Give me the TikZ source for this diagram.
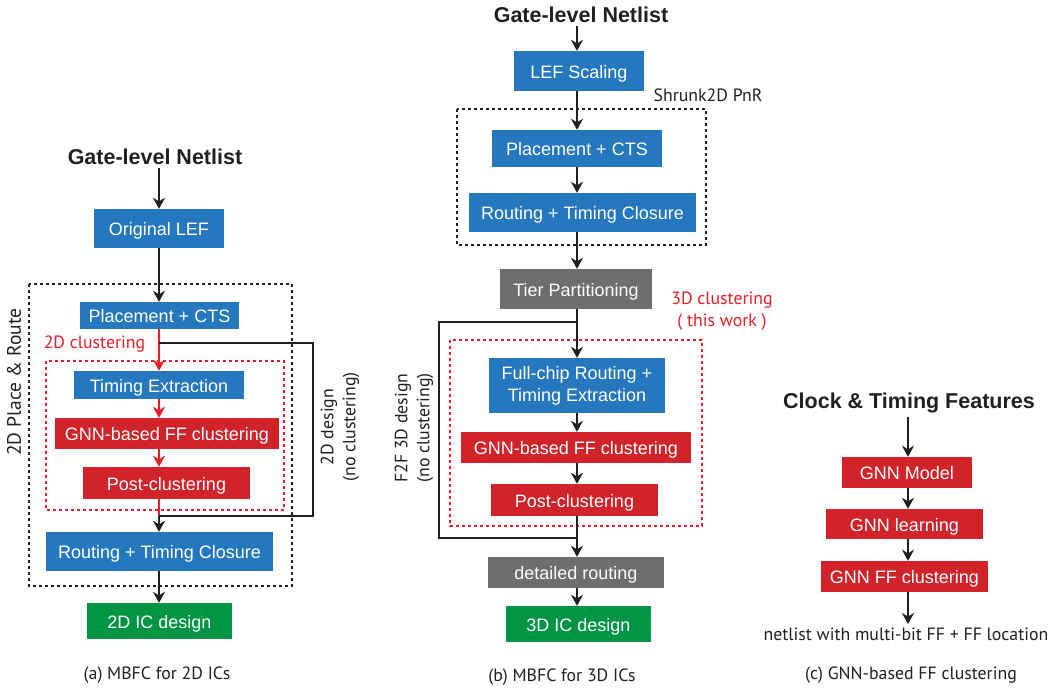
\documentclass[tikz,border=0pt]{standalone}
\usepackage{fontspec}
\setmainfont{Liberation Sans}
\newfontfamily\capfont{PT Sans}
\usetikzlibrary{arrows.meta,calc,positioning}
\definecolor{stepblue}{RGB}{38,120,190}
\definecolor{stepred}{RGB}{208,35,42}
\definecolor{stepgreen}{RGB}{0,148,68}
\definecolor{stepgray}{RGB}{109,110,112}
\definecolor{dotred}{RGB}{237,28,36}
\definecolor{inkblack}{RGB}{35,31,32}

\begin{document}
\begin{tikzpicture}[x=1pt,y=-1pt,>={Stealth[length=11pt,width=12pt,inset=3.5pt]},
  boxbase/.style={inner sep=0pt,text=white,align=center,font=\fontsize{18}{22}\selectfont},
  box/.style={boxbase,text height=14pt,text depth=0pt},
  bluebox/.style={box,fill=stepblue},
  redbox/.style={box,fill=stepred},
  greenbox/.style={box,fill=stepgreen},
  graybox/.style={box,fill=stepgray},
  title/.style={text=inkblack,font=\bfseries\fontsize{21.5}{24}\selectfont},
  note/.style={text=inkblack,align=center,font=\capfont\fontsize{17.8}{22}\selectfont},
  flow/.style={->,line width=1.6pt,draw=inkblack},
  redflow/.style={->,line width=1.6pt,draw=dotred},
  link/.style={line width=1.6pt,draw=inkblack},
  blkdots/.style={line width=1.5pt,draw=inkblack,dash pattern=on 3pt off 3pt},
  reddots/.style={line width=1.5pt,draw=dotred,dash pattern=on 3pt off 3pt}]
  \useasboundingbox (0,0) rectangle (1058,691);

  % (a) MBFC for 2D ICs
  \node[title] (net2d) at (155,157) {Gate-level Netlist};
  \node[bluebox,minimum width=130pt,minimum height=39pt] (origlef) at (159,228.5) {Original LEF};
  \node[bluebox,minimum width=159pt,minimum height=27pt] (pcts2d) at (159.5,315.5) {Placement + CTS};
  \node[bluebox,minimum width=170pt,minimum height=28pt] (timing2d) at (159,385) {Timing Extraction};
  \node[redbox,minimum width=224pt,minimum height=31pt] (gnn2d) at (167,433.5) {GNN-based FF clustering};
  \node[redbox,minimum width=167pt,minimum height=32pt] (post2d) at (166.5,483) {Post-clustering};
  \node[bluebox,minimum width=227pt,minimum height=39pt] (route2d) at (159.5,551.5) {Routing + Timing Closure};
  \node[greenbox,minimum width=145pt,minimum height=36pt] (ic2d) at (159.5,621) {2D IC design};
  \draw[blkdots] (29,284) rectangle (292,586);
  \draw[reddots] (46,361) rectangle (284,510);
  \coordinate (split2d) at (159,343);
  \coordinate (turn2d) at (313,343);
  \coordinate (join2d) at (159,516);
  \draw[flow] (net2d.south -| origlef.north) -- (origlef.north);
  \draw[flow] (origlef.south -| split2d) -- (split2d |- pcts2d.north);
  \draw[redflow] (split2d |- pcts2d.south) -- (split2d |- timing2d.north);
  \draw[redflow] (split2d |- timing2d.south) -- (split2d |- gnn2d.north);
  \draw[redflow] (split2d |- gnn2d.south) -- (split2d |- post2d.north);
  \draw[link,draw=dotred] (split2d |- post2d.south) -- (join2d);
  \draw[flow] (join2d) -- (join2d |- route2d.north);
  \draw[flow] (join2d |- route2d.south) -- (join2d |- ic2d.north);
  \draw[link,line width=1.3pt] (split2d) -- (turn2d) |- (join2d);
  \node[note,text=dotred] (clus2d) at (94.5,344) {2D clustering};
  \node[note,rotate=90,font=\capfont\fontsize{19.5}{22}\selectfont] (pnr2d) at (14,382) {2D Place \& Route};
  \node[note,rotate=90] (nocl2d) at (340,427) {2D design\\(no clustering)};
  \node[note] (capa) at (157,675) {(a) MBFC for 2D ICs};

  % (b) MBFC for 3D ICs
  \node[title] (net3d) at (581,15) {Gate-level Netlist};
  \node[bluebox,minimum width=130pt,minimum height=40pt] (lefscale) at (579,71) {LEF Scaling};
  \node[bluebox,minimum width=170pt,minimum height=37pt] (pcts3d) at (577,148.5) {Placement + CTS};
  \node[bluebox,minimum width=227pt,minimum height=39pt] (route3d) at (582.5,212.5) {Routing + Timing Closure};
  \node[graybox,minimum width=152pt,minimum height=40pt] (tier) at (576,289) {Tier Partitioning};
  \node[boxbase,fill=stepblue,minimum width=176pt,minimum height=55pt] (full3d) at (577,385.5) {Full-chip Routing +\\Timing Extraction};
  \node[redbox,minimum width=230pt,minimum height=31pt] (gnn3d) at (576,447.5) {GNN-based FF clustering};
  \node[redbox,minimum width=167pt,minimum height=32pt] (post3d) at (574.5,500) {Post-clustering};
  \node[graybox,minimum width=176pt,minimum height=31pt] (detail) at (576,572.5) {detailed routing};
  \node[greenbox,minimum width=145pt,minimum height=36pt] (ic3d) at (578.5,624) {3D IC design};
  \draw[blkdots] (457,109) rectangle (706,245);
  \draw[reddots] (450,340) rectangle (702,526);
  \coordinate (split3d) at (577,322);
  \coordinate (turn3d) at (439,322);
  \coordinate (join3d) at (577,538);
  \draw[flow] (net3d.south -| split3d) -- (split3d |- lefscale.north);
  \draw[flow] (split3d |- lefscale.south) -- (split3d |- pcts3d.north);
  \draw[flow] (split3d |- pcts3d.south) -- (split3d |- route3d.north);
  \draw[flow] (split3d |- route3d.south) -- (split3d |- tier.north);
  \draw[flow] (split3d |- tier.south) -- (split3d |- full3d.north);
  \draw[flow] (split3d |- full3d.south) -- (split3d |- gnn3d.north);
  \draw[flow] (split3d |- gnn3d.south) -- (split3d |- post3d.north);
  \draw[flow] (split3d |- post3d.south) -- (split3d |- detail.north);
  \draw[flow] (split3d |- detail.south) -- (split3d |- ic3d.north);
  \draw[link,line width=1.3pt] (split3d) -- (turn3d) |- (join3d);
  \node[note] (shrunk) at (708,95) {Shrunk2D PnR};
  \node[note,text=dotred] (clus3d) at (722,311) {3D clustering\\( this work )};
  \node[note,rotate=90] (nocl3d) at (414,428) {F2F 3D design\\(no clustering)};
  \node[note] (capb) at (562,677) {(b) MBFC for 3D ICs};

  % (c) GNN-based FF clustering
  \node[title] (feat) at (909,403) {Clock \& Timing Features};
  \node[redbox,minimum width=130pt,minimum height=31pt] (gnnmodel) at (907,472.5) {GNN Model};
  \node[redbox,minimum width=157pt,minimum height=30pt] (gnnlearn) at (904.5,524) {GNN learning};
  \node[redbox,minimum width=167pt,minimum height=31pt] (gnnclus) at (904.5,576.5) {GNN FF clustering};
  \node[note] (outnet) at (906,634) {netlist with multi-bit FF + FF location};
  \node[note] (capc) at (911,675) {(c) GNN-based FF clustering};
  \coordinate (axisc) at (908,0);
  \draw[flow] (feat.south -| axisc) -- (axisc |- gnnmodel.north);
  \draw[flow] (axisc |- gnnmodel.south) -- (axisc |- gnnlearn.north);
  \draw[flow] (axisc |- gnnlearn.south) -- (axisc |- gnnclus.north);
  \draw[flow] (axisc |- gnnclus.south) -- (axisc |- outnet.north);
\end{tikzpicture}
\end{document}
